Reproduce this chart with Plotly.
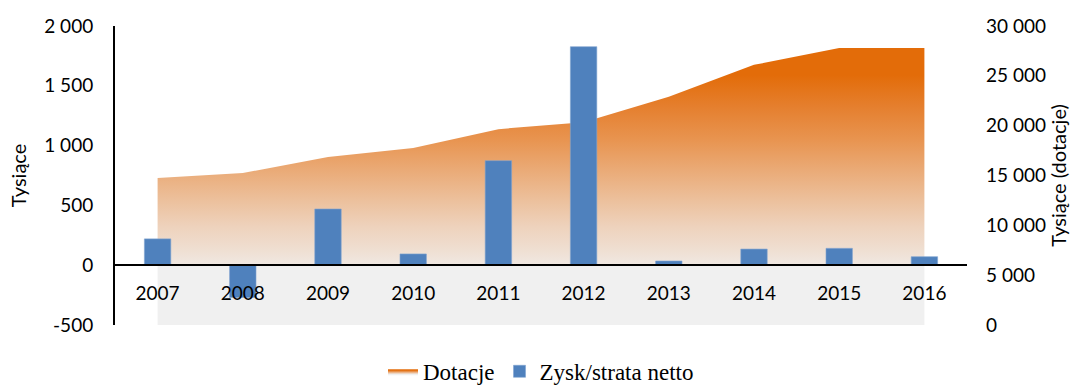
import plotly.graph_objects as go

# Years on the category axis
years = ["2007", "2008", "2009", "2010", "2011", "2012", "2013", "2014", "2015", "2016"]

# Subsidies (thousands), right axis
dotacje = [14750, 15250, 16850, 17750, 19650, 20350, 22900, 26100, 27800, 27800]

# Net profit / loss (thousands), left axis
zysk = [220, -270, 470, 94, 874, 1827, 35, 135, 141, 71]

left_ticks = [-500, 0, 500, 1000, 1500, 2000]
left_labels = ["-500", "0", "500", "1 000", "1 500", "2 000"]
right_ticks = [0, 5000, 10000, 15000, 20000, 25000, 30000]
right_labels = ["0", "5 000", "10 000", "15 000", "20 000", "25 000", "30 000"]

TICK_FONT = dict(family="Lato, 'Open Sans', sans-serif", size=19, color="#000000")
TITLE_FONT = dict(family="Lato, 'Open Sans', sans-serif", size=20, color="#000000")

fig = go.Figure()

# Subsidies area with a vertical orange-to-light gradient
fig.add_trace(go.Scatter(
    x=years, y=dotacje, name="Dotacje",
    mode="lines", line=dict(width=0, color="#E36C09"),
    fill="tozeroy",
    fillgradient=dict(
        type="vertical", start=0, stop=30000,
        colorscale=[
            [0.0, "#F0F0F0"], [0.2, "#F0F0F0"], [0.201, "#F0E8E2"],
            [0.25, "#EFDFD2"], [0.33, "#EED2BC"], [0.418, "#ECC09C"],
            [0.52, "#EAAA76"], [0.62, "#E89450"], [0.73, "#E57F2E"],
            [0.836, "#E36C09"], [1.0, "#E36C09"],
        ],
    ),
    yaxis="y", hoverinfo="skip",
))

# Net profit / loss bars drawn above the area
fig.add_trace(go.Bar(
    x=years, y=zysk, name="Zysk/strata netto",
    marker=dict(color="#4F81BD", line=dict(width=0.6, color="#7FA3D0")),
    yaxis="y2",
))

fig.update_layout(
    width=1083, height=385,
    margin=dict(l=115, r=116, t=26, b=60, autoexpand=False),
    paper_bgcolor="white", plot_bgcolor="rgba(0,0,0,0)",
    bargap=0.69,
    showlegend=True,
    legend=dict(
        orientation="h", x=0.5, xanchor="center", y=-0.155, yanchor="middle",
        font=dict(family="'Liberation Serif', 'Times New Roman', serif", size=23, color="#000000"),
        itemwidth=30, traceorder="normal",
    ),
    xaxis=dict(
        type="category", range=[-0.5, 9.5],
        anchor="free", position=0.2,
        showline=True, linecolor="#000000", linewidth=2,
        showgrid=False, zeroline=False,
        ticks="", ticklabelstandoff=11,
        tickfont=TICK_FONT,
    ),
    yaxis=dict(
        side="right", range=[0, 30000],
        tickvals=right_ticks, ticktext=right_labels,
        showgrid=False, zeroline=False, showline=False,
        ticks="", ticklabelstandoff=18,
        tickfont=TICK_FONT,
        title=dict(text="Tysiące (dotacje)", font=TITLE_FONT, standoff=6),
    ),
    yaxis2=dict(
        side="left", overlaying="y", range=[-500, 2000],
        tickvals=left_ticks, ticktext=left_labels,
        showgrid=False, zeroline=False,
        showline=True, linecolor="#000000", linewidth=2,
        ticks="", ticklabelstandoff=16,
        tickfont=TICK_FONT,
        title=dict(text="Tysiące", font=TITLE_FONT, standoff=12),
    ),
)

fig.write_html("out.html")
